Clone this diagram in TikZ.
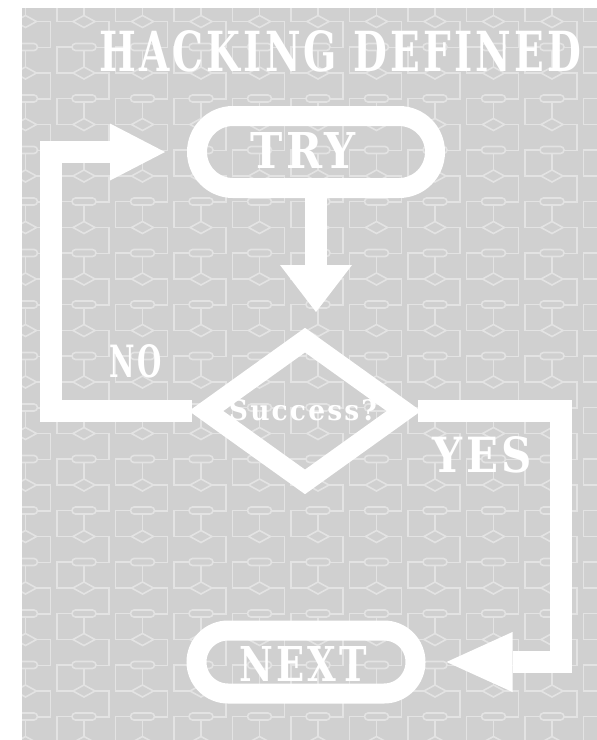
\documentclass[tikz,border=0pt]{standalone}
\usepackage{fontspec}
\newfontfamily\typefont{DejaVu Serif}
\newfontfamily\spacedfont{DejaVu Serif}[LetterSpace=8]
\usetikzlibrary{shapes.misc,shapes.geometric,arrows.meta,calc}
\definecolor{bgcol}{HTML}{D0D0D0}
\definecolor{patcol}{HTML}{E3E3E3}
\begin{document}
\begin{tikzpicture}[x=1pt,y=-1pt,
  pat/.style={draw=patcol,line width=1.6pt},
  stadium/.style={rounded rectangle,draw=white,line width=20pt,inner sep=0pt},
  decision/.style={diamond,draw=white,line width=20pt,inner sep=0pt},
  conn/.style={draw=white,line width=22pt},
  lbl/.style={text=white,inner sep=0pt,font=\typefont\bfseries}]
\useasboundingbox (0,0) rectangle (597,740);
\fill[white] (0,0) rectangle (597,740);
\fill[bgcol] (22,8) rectangle (597,740);
% background texture of small flowcharts
\begin{scope}
\clip (22,8) rectangle (597,740);
\foreach \i in {-1,...,9}{
 \foreach \j in {-3,...,12}{
  \pgfmathsetmacro\cx{84+58.5*\i}
  \pgfmathsetmacro\cy{150+51.5*\j}
  \begin{scope}[shift={(\cx,\cy)}]
   \draw[pat,rounded corners=3.5pt] (-12,-3.5) rectangle (12,3.5);
   \draw[pat] (0,3.5) -- (0,20);
   \draw[pat] (0,20) -- (11,26) -- (0,32) -- (-11,26) -- cycle;
   \draw[pat] (-11,26) -- (-27,26) -- (-27,0) -- (-12,0);
   \draw[pat] (11,26) -- (25,26) -- (25,52) -- (12,52);
  \end{scope}
 }
}
\end{scope}
% title
\node[lbl,anchor=south west] (title) at (99,72) {\resizebox{482pt}{41pt}{\spacedfont\bfseries HACKING DEFINED}};
% main flowchart
\node[stadium,minimum width=238pt,minimum height=72pt] (try) at (316,152) {};
\node[lbl] (trytxt) at (303,150) {\resizebox{105pt}{36pt}{\spacedfont\bfseries TRY}};
\node[decision,minimum width=206pt,minimum height=150pt] (dia) at (305,411) {};
\node[lbl] (succ) at (303,410) {\resizebox{148pt}{21pt}{\spacedfont\bfseries Success?}};
\node[stadium,minimum width=219pt,minimum height=63pt] (next) at (306,662) {};
\node[lbl] (nexttxt) at (303.5,664) {\resizebox{127pt}{35pt}{\spacedfont\bfseries NEXT}};
\node[lbl] (no) at (136,361.5) {\resizebox{52pt}{33pt}{\spacedfont\bfseries NO}};
\node[lbl] (yes) at (482.5,455) {\resizebox{99pt}{36pt}{\spacedfont\bfseries YES}};
% connectors
\coordinate (dtip) at (314,312);
\coordinate (lc) at (51,152);
\coordinate (ltip) at (165,152);
\coordinate (rc) at (561,411);
\draw[conn,-{Triangle[length=47pt,width=72pt,line width=0pt]}] (try.south) -- (try.south |- dtip);
\draw[conn,-{Triangle[length=55pt,width=57pt,line width=0pt]}] (dia.west) -- (dia.west -| lc) -- (lc) -- (ltip);
\draw[conn,-{Triangle[length=66pt,width=60pt,line width=0pt]}] (dia.east) -- (rc) -- (rc |- next) -- ($(next.east)+(21,0)$);
\end{tikzpicture}
\end{document}
